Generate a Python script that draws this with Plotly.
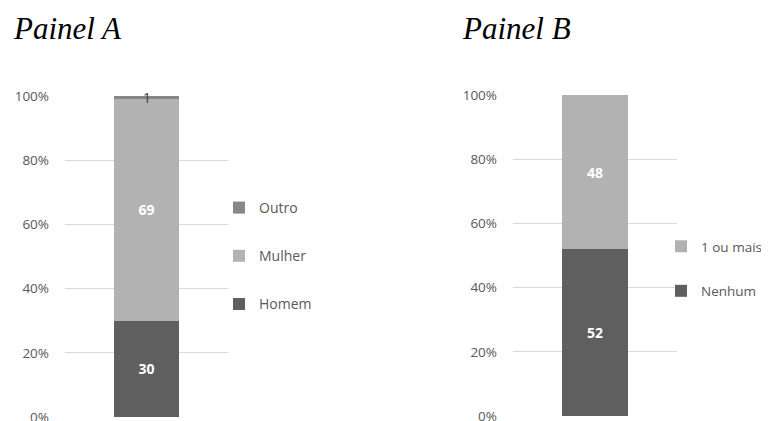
import plotly.graph_objects as go

# Data
panel_a_category = "A"
panel_a_series = ["Homem", "Mulher", "Outro"]
panel_a_values = [30, 69, 1]
panel_a_colors = ["#5f5f5f", "#b2b2b2", "#878787"]
panel_a_textcolors = ["#ffffff", "#ffffff", "#404040"]

panel_b_category = "B"
panel_b_series = ["Nenhum", "1 ou mais"]
panel_b_values = [52, 48]
panel_b_colors = ["#5f5f5f", "#b2b2b2"]
panel_b_textcolors = ["#ffffff", "#ffffff"]

y_ticks = [0, 20, 40, 60, 80, 100]
y_ticktext = [f"{v}%" for v in y_ticks]

W, H = 769, 421
OFF = 8  # page body margin


def px_x(x):
    return (x - OFF) / W


def px_y(y):
    return 1 - (y - OFF) / H


fig = go.Figure()
annotations = []

n = len(panel_a_series)
cum = 0
for i, (name, v, c, tc) in enumerate(zip(panel_a_series, panel_a_values, panel_a_colors, panel_a_textcolors)):
    small = v < 5
    fig.add_trace(go.Bar(
        x=[panel_a_category], y=[v], name=name, marker=dict(color=c, line=dict(width=0)),
        text=None if small else [str(v)],
        textposition="none" if small else "inside",
        insidetextanchor="middle", textangle=0,
        textfont=dict(family="Open Sans", size=14, color=tc, weight="bold"),
        xaxis="x", yaxis="y", legend="legend", legendgroup="a_" + name,
        legendrank=n - i, hoverinfo="skip",
    ))
    if small:
        annotations.append(dict(
            text=str(v), x=panel_a_category, y=cum + v / 2, xref="x", yref="y",
            xanchor="center", yanchor="middle", showarrow=False,
            font=dict(family="Open Sans", size=14, color=tc),
        ))
    cum += v

n = len(panel_b_series)
for i, (name, v, c, tc) in enumerate(zip(panel_b_series, panel_b_values, panel_b_colors, panel_b_textcolors)):
    fig.add_trace(go.Bar(
        x=[panel_b_category], y=[v], name=name, marker=dict(color=c, line=dict(width=0)),
        text=[str(v)], textposition="inside", insidetextanchor="middle",
        textangle=0,
        textfont=dict(family="Open Sans", size=14, color=tc, weight="bold"),
        xaxis="x2", yaxis="y2", legend="legend2", legendgroup="b_" + name,
        legendrank=n - i, hoverinfo="skip",
    ))

axis_common = dict(
    range=[0, 100], tickmode="array", tickvals=y_ticks, ticktext=y_ticktext,
    showgrid=True, gridcolor="#d9d9d9", gridwidth=1,
    zeroline=False, showline=False, ticks="", ticklabelstandoff=15,
    tickfont=dict(family="Open Sans", size=13.5, color="#595959"),
    fixedrange=True, automargin=False,
)
xaxis_common = dict(showticklabels=False, showgrid=False, zeroline=False,
                    showline=False, ticks="", fixedrange=True, automargin=False,
                    range=[-0.5, 0.5])

legend_common = dict(
    bgcolor="rgba(0,0,0,0)", borderwidth=0, itemwidth=30,
    traceorder="grouped", xanchor="left", yanchor="top",
    itemclick=False, itemdoubleclick=False,
)

annotations += [
    dict(text="Painel A", xref="paper", yref="paper", x=px_x(11), y=px_y(28),
         xanchor="left", yanchor="middle", showarrow=False,
         font=dict(family="Liberation Serif", size=31, color="#000000", style="italic")),
    dict(text="Painel B", xref="paper", yref="paper", x=px_x(460), y=px_y(28),
         xanchor="left", yanchor="middle", showarrow=False,
         font=dict(family="Liberation Serif", size=31, color="#000000", style="italic")),
]

fig.update_layout(
    width=W, height=H,
    margin=dict(l=0, r=0, t=0, b=0, autoexpand=False),
    paper_bgcolor="white", plot_bgcolor="white",
    barmode="stack", bargap=0.6,
    showlegend=True,
    xaxis=dict(domain=[px_x(65), px_x(228)], anchor="y", **xaxis_common),
    yaxis=dict(domain=[px_y(417), px_y(96)], anchor="x", **axis_common),
    xaxis2=dict(domain=[px_x(513), px_x(677)], anchor="y2", **xaxis_common),
    yaxis2=dict(domain=[px_y(416), px_y(95)], anchor="x2", **axis_common),
    legend=dict(x=px_x(219), y=px_y(192), tracegroupgap=27,
                font=dict(family="Open Sans", size=14, color="#595959"), **legend_common),
    legend2=dict(x=px_x(661), y=px_y(231), tracegroupgap=24,
                 font=dict(family="Open Sans", size=13.5, color="#595959"), **legend_common),
    annotations=annotations,
)

fig.write_html("out.html")
